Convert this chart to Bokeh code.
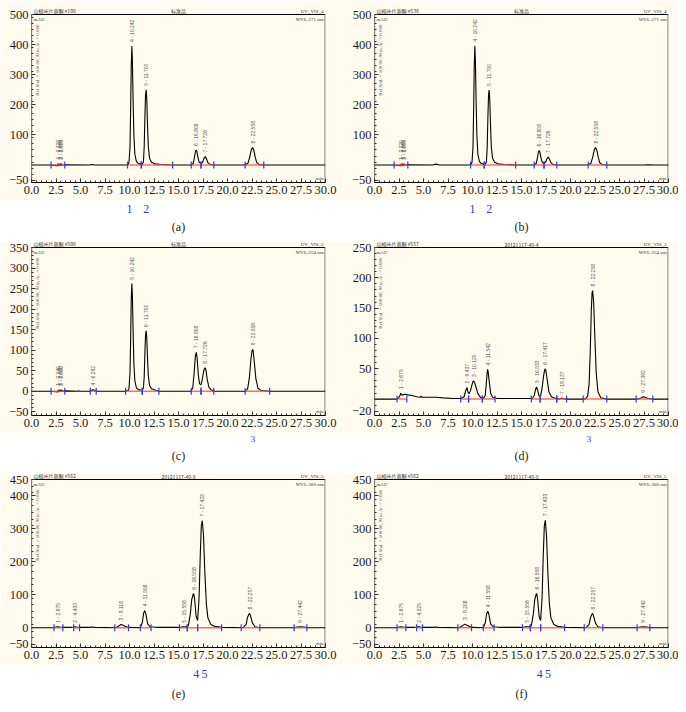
import math
from bokeh.plotting import figure
from bokeh.models import Range1d, FixedTicker, NumeralTickFormatter
from bokeh.layouts import column, row
from bokeh.embed import file_html
from bokeh.resources import INLINE
from bokeh.core.properties import value

# ---------------- data ----------------
X_TICKS = [0.0, 2.5, 5.0, 7.5, 10.0, 12.5, 15.0, 17.5, 20.0, 22.5, 25.0, 27.5, 30.0]

# Panel (a)
a_t = [0.0, 1.8, 2.5, 2.65, 2.72, 2.80, 2.86, 2.93, 3.01, 3.10, 3.4, 5.9, 6.2, 6.5, 9.6,
       9.85, 9.95, 10.05, 10.12, 10.18, 10.242, 10.30, 10.37, 10.45, 10.55, 10.70, 10.90, 11.10, 11.30,
       11.42, 11.50, 11.58, 11.64, 11.70, 11.76, 11.83, 11.92, 12.05, 12.25, 12.60, 13.2, 14.4,
       16.30, 16.50, 16.64, 16.74, 16.81, 16.88, 16.99, 17.12, 17.30,
       17.45, 17.60, 17.73, 17.85, 18.00, 18.20, 18.60,
       21.80, 22.10, 22.28, 22.44, 22.56, 22.68, 22.83, 22.98, 23.20, 23.70, 30.0]
a_y = [0, 0, -1, -3, 5, -2, 4, -3, 5, 0, 1, 0, 2, 0, 0,
       2, 9, 60, 190, 330, 395, 340, 210, 95, 35, 12, 5, 3, 3,
       10, 60, 170, 235, 250, 220, 140, 60, 22, 9, 4, 2, 0,
       0, 5, 28, 46, 50, 45, 24, 9, 5,
       9, 22, 28, 21, 8, 2, 0,
       0, 7, 28, 52, 58, 50, 26, 8, 2, 0, 0]
a_pk_t = [2.72, 2.86, 3.01, 10.242, 11.700, 16.808, 17.726, 22.558]
a_pk_h = [5, 4, 5, 395, 250, 50, 28, 58]
a_pk_lbl = ["1 - 2.720", "2 - 2.860", "3 - 3.009", "4 - 10.242", "5 - 11.700",
            "6 - 16.808", "7 - 17.726", "8 - 22.558"]
a_seg0 = [2.0, 9.8, 11.2, 16.3, 17.3, 21.8]
a_seg1 = [3.4, 11.2, 14.4, 17.3, 18.6, 23.7]
a_yticks = [-50, 100, 200, 300, 400, 500]
a_marks_t = [10.0, 11.7]
a_marks = ["1", "2"]

# Panel (b)
b_t = [0.0, 1.8, 2.5, 2.65, 2.72, 2.80, 2.86, 2.93, 3.01, 3.10, 3.4, 5.9, 6.3, 6.6, 9.6,
       9.85, 9.95, 10.05, 10.12, 10.18, 10.242, 10.30, 10.37, 10.45, 10.55, 10.70, 10.90, 11.10, 11.30,
       11.42, 11.50, 11.58, 11.64, 11.70, 11.76, 11.83, 11.92, 12.05, 12.25, 12.60, 13.2, 14.4,
       16.30, 16.50, 16.64, 16.74, 16.81, 16.88, 16.99, 17.12, 17.30,
       17.45, 17.60, 17.73, 17.85, 18.00, 18.20, 18.60,
       21.80, 22.10, 22.28, 22.44, 22.56, 22.68, 22.83, 22.98, 23.20, 23.70, 27.5, 28.0, 28.5, 30.0]
b_y = [0, 0, -1, -3, 4, -2, 5, -3, 4, 0, 1, 0, 3, 0, 0,
       2, 9, 60, 190, 330, 396, 340, 210, 95, 35, 12, 5, 3, 3,
       10, 60, 170, 235, 249, 220, 140, 60, 22, 9, 4, 2, 0,
       0, 5, 27, 45, 48, 43, 23, 9, 5,
       9, 21, 27, 20, 8, 2, 0,
       0, 7, 28, 52, 58, 50, 26, 8, 2, 0, 0, 1, 0, 0]
b_pk_t = [2.72, 2.86, 3.01, 10.242, 11.700, 16.808, 17.726, 22.558]
b_pk_h = [4, 5, 4, 396, 249, 48, 27, 58]
b_pk_lbl = ["1 - 2.720", "2 - 2.860", "3 - 3.009", "4 - 10.242", "5 - 11.700",
            "6 - 16.808", "7 - 17.726", "8 - 22.558"]
b_seg0 = [2.0, 9.8, 11.2, 16.3, 17.3, 21.8]
b_seg1 = [3.4, 11.2, 14.4, 17.3, 18.6, 23.7]
b_yticks = [-50, 100, 200, 300, 400, 500]
b_marks_t = [10.0, 11.7]
b_marks = ["1", "2"]

# Panel (c)
c_t = [0.0, 1.8, 2.5, 2.65, 2.74, 2.82, 2.90, 2.98, 3.06, 3.2, 3.5, 4.7, 4.8, 4.9, 5.9, 6.1, 6.29, 6.45, 6.7, 9.5,
       9.85, 9.95, 10.05, 10.12, 10.18, 10.242, 10.30, 10.37, 10.45, 10.55, 10.70, 10.90, 11.10, 11.30,
       11.42, 11.50, 11.58, 11.64, 11.70, 11.76, 11.83, 11.92, 12.05, 12.25, 12.60, 13.0,
       16.25, 16.45, 16.60, 16.72, 16.81, 16.90, 17.02, 17.15, 17.30,
       17.42, 17.56, 17.68, 17.73, 17.80, 17.92, 18.10, 18.35, 18.70,
       21.80, 22.05, 22.22, 22.38, 22.50, 22.56, 22.62, 22.74, 22.90, 23.10, 23.40, 24.3, 30.0]
c_y = [0, 0, -1, -2, 3, -2, 4, -1, 3, 0, 1, 0, 1, 0, 0, 2, 4, 2, 0, 0,
       2, 7, 45, 130, 225, 262, 230, 145, 65, 25, 9, 4, 3, 3,
       8, 35, 100, 138, 147, 130, 85, 38, 14, 6, 3, 0,
       0, 8, 45, 85, 95, 82, 40, 18, 16,
       28, 48, 56, 57, 52, 30, 10, 3, 0,
       0, 6, 30, 75, 98, 102, 98, 70, 30, 8, 2, 0, 0]
c_pk_t = [2.74, 2.90, 3.06, 6.29, 10.242, 11.700, 16.808, 17.726, 22.558]
c_pk_h = [3, 4, 3, 4, 262, 147, 95, 57, 102]
c_pk_lbl = ["1 - 2.740", "2 - 2.900", "3 - 3.060", "4 - 6.292", "5 - 10.242", "6 - 11.700",
            "7 - 16.808", "8 - 17.726", "9 - 22.558"]
c_seg0 = [2.0, 6.0, 9.6, 11.3, 16.3, 17.3, 21.8]
c_seg1 = [3.4, 6.6, 11.3, 13.0, 17.3, 18.6, 24.3]
c_yticks = [-50, 0, 50, 100, 150, 200, 250, 300, 350]
c_marks_t = [22.6]
c_marks = ["3"]

# Panel (d)
d_t = [0.0, 2.2, 2.45, 2.60, 2.675, 2.75, 2.90, 3.10, 3.40, 3.80, 4.30, 4.65, 4.75, 4.85, 5.30, 5.80, 6.30, 7.00, 8.00, 8.80,
       9.15, 9.30, 9.44, 9.55, 9.65, 9.80, 9.95, 10.05, 10.12, 10.22, 10.35, 10.55, 10.80, 11.10,
       11.30, 11.42, 11.50, 11.54, 11.60, 11.70, 11.85, 12.05, 12.50,
       16.10, 16.30, 16.42, 16.53, 16.64, 16.80, 16.95, 17.10, 17.25, 17.35, 17.42, 17.50, 17.62, 17.80, 18.05, 18.50,
       18.90, 19.14, 19.40,
       21.50, 21.75, 21.90, 22.02, 22.12, 22.20, 22.26, 22.36, 22.48, 22.62, 22.80, 23.10, 23.70,
       26.90, 27.20, 27.39, 27.60, 27.90, 28.40, 30.0]
d_y = [0, 0, 2, 6, 10, 7, 7, 8, 7, 6, 4, 3, 5, 3, 3, 3, 3, 2, 1, 1,
       4, 14, 19, 11, 9, 14, 24, 29, 30, 27, 20, 9, 3, 1,
       6, 28, 44, 49, 45, 30, 10, 3, 1,
       1, 6, 15, 20, 15, 5, 5, 18, 38, 47, 50, 46, 32, 12, 4, 1,
       0, 2, 0,
       0, 5, 25, 80, 145, 175, 179, 160, 105, 45, 12, 2, 0,
       0, 2, 4, 3, 1, 0, 0]
d_pk_t = [2.675, 9.437, 10.120, 11.542, 16.533, 17.417, 19.137, 22.258, 27.392]
d_pk_h = [10, 19, 30, 49, 20, 50, 2, 179, 4]
d_pk_lbl = ["1 - 2.675", "2 - 9.437", "3 - 10.120", "4 - 11.542", "5 - 16.533",
            "6 - 17.417", "7 - 19.137", "8 - 22.258", "9 - 27.392"]
d_seg0 = [2.3, 8.8, 9.6, 11.0, 16.0, 16.9, 18.6, 21.3, 26.7]
d_seg1 = [3.3, 9.6, 11.0, 12.3, 16.9, 18.6, 19.6, 23.7, 28.4]
d_yticks = [-20, 50, 100, 150, 200, 250]
d_marks_t = [21.9]
d_marks = ["3"]

# Panel (e)
e_t = [0.0, 2.3, 2.50, 2.675, 2.90, 3.30, 4.00, 4.25, 4.43, 4.60, 4.90, 6.00, 6.20, 6.50, 8.60, 8.90, 9.12, 9.30, 9.60, 9.90,
       11.10, 11.30, 11.45, 11.56, 11.67, 11.85, 12.10, 12.50, 13.00,
       15.20, 15.40, 15.56, 15.75, 16.00, 16.20, 16.35, 16.50, 16.56, 16.65, 16.80, 16.95,
       17.10, 17.22, 17.33, 17.43, 17.55, 17.70, 17.85, 18.00, 18.30, 18.70, 19.40,
       21.60, 21.90, 22.05, 22.20, 22.26, 22.35, 22.55, 22.80, 23.30,
       26.80, 27.10, 27.44, 27.80, 28.20, 30.0]
e_y = [0, 0, 2, 3, 2, 1, 1, 2, 3, 2, 1, 1, 2, 1, 0, 5, 10, 8, 4, 1,
       0, 15, 45, 52, 42, 12, 3, 2, 1,
       1, 3, 3, 2, 6, 40, 85, 102, 103, 85, 35, 22,
       90, 220, 310, 325, 280, 160, 70, 30, 10, 4, 1,
       0, 10, 32, 42, 43, 36, 14, 3, 0,
       0, 2, 3, 2, 0, 0]
e_pk_t = [2.675, 4.433, 9.118, 11.558, 15.558, 16.558, 17.433, 22.257, 27.442]
e_pk_h = [3, 3, 10, 52, 3, 103, 325, 43, 3]
e_pk_lbl = ["1 - 2.675", "2 - 4.433", "3 - 9.118", "4 - 11.558", "5 - 15.558",
            "6 - 16.558", "7 - 17.433", "8 - 22.257", "9 - 27.442"]
e_seg0 = [2.3, 4.3, 8.5, 11.1, 15.1, 15.9, 16.95, 21.4, 26.8]
e_seg1 = [3.2, 4.9, 9.9, 12.2, 15.9, 16.95, 19.4, 23.3, 28.1]
e_yticks = [-50, 0, 100, 200, 300, 400, 450]
e_marks_t = [16.8, 17.65]
e_marks = ["4", "5"]

# Panel (f)
f_t = [0.0, 2.3, 2.50, 2.675, 2.90, 3.30, 4.00, 4.30, 4.52, 4.70, 4.95, 6.00, 6.20, 6.50, 8.60, 8.95, 9.21, 9.40, 9.70, 9.95,
       11.10, 11.30, 11.45, 11.56, 11.67, 11.85, 12.10, 12.50, 13.00,
       15.20, 15.40, 15.56, 15.75, 16.00, 16.20, 16.35, 16.50, 16.56, 16.65, 16.80, 16.95,
       17.10, 17.22, 17.33, 17.43, 17.55, 17.70, 17.85, 18.00, 18.30, 18.70, 19.40,
       21.60, 21.90, 22.05, 22.20, 22.26, 22.35, 22.55, 22.80, 23.30,
       26.80, 27.10, 27.44, 27.80, 28.20, 30.0]
f_y = [0, 0, 2, 3, 2, 1, 1, 2, 3, 2, 1, 1, 2, 1, 0, 5, 11, 8, 4, 1,
       0, 15, 44, 50, 41, 12, 3, 2, 1,
       1, 3, 3, 2, 6, 40, 85, 102, 104, 85, 35, 22,
       90, 220, 310, 326, 280, 160, 70, 30, 10, 4, 1,
       0, 10, 32, 42, 43, 36, 14, 3, 0,
       0, 2, 3, 2, 0, 0]
f_pk_t = [2.675, 4.525, 9.208, 11.558, 15.558, 16.558, 17.433, 22.257, 27.442]
f_pk_h = [3, 3, 11, 50, 3, 104, 326, 43, 3]
f_pk_lbl = ["1 - 2.675", "2 - 4.525", "3 - 9.208", "4 - 11.558", "5 - 15.558",
            "6 - 16.558", "7 - 17.433", "8 - 22.257", "9 - 27.442"]
f_seg0 = [2.3, 4.3, 8.5, 11.1, 15.1, 15.9, 16.95, 21.4, 26.8]
f_seg1 = [3.2, 4.9, 9.9, 12.2, 15.9, 16.95, 19.4, 23.3, 28.1]
f_yticks = [-50, 0, 100, 200, 300, 400, 450]
f_marks_t = [16.85, 17.7]
f_marks = ["4", "5"]

# header texts
hdr = {
    "a": ("山楂叶片黄酮 #108", "标准品", "UV_VIS_4", "WVL:271 nm"),
    "b": ("山楂叶片黄酮 #538", "标准品", "UV_VIS_4", "WVL:271 nm"),
    "c": ("山楂叶片黄酮 #508", "标准品", "UV_VIS_3", "WVL:254 nm"),
    "d": ("山楂叶片黄酮 #557", "20121117-40-4", "UV_VIS_3", "WVL:254 nm"),
    "e": ("山楂叶片黄酮 #562", "20121117-40-9", "UV_VIS_5", "WVL:360 nm"),
    "f": ("山楂叶片黄酮 #562", "20121117-40-9", "UV_VIS_5", "WVL:360 nm"),
}

# ---------------- styling ----------------
CREAM = "#FFFBEF"
SERIF = "Liberation Serif"
FW = 294
FH = 168     # height of the data box (bottom of range to the top tick)
PAD = 6      # strip above the data box for the header texts
X_MINOR = [i * 0.5 for i in range(61)]


def chart(t, y, yr, yticks, ystep, pk_t, pk_h, pk_lbl, s0, s1, key, bl, br, bt):
    left, mid, right, wvl = hdr[key]
    ybot, ytop = yr
    yend = ytop + (ytop - ybot) * PAD / FH
    p = figure(frame_width=FW, frame_height=FH + PAD, x_range=Range1d(0, 30),
               y_range=Range1d(ybot, yend),
               output_backend="svg", toolbar_location=None,
               min_border_left=bl, min_border_right=br, min_border_top=bt, min_border_bottom=18,
               background_fill_color=CREAM, border_fill_color=CREAM,
               outline_line_color=None)
    p.grid.visible = False
    p.xaxis.ticker = FixedTicker(ticks=X_TICKS, minor_ticks=X_MINOR)
    p.xaxis.formatter = NumeralTickFormatter(format="0.0")
    yminor = list(range(yticks[0], yticks[-1] + 1, ystep))
    p.yaxis.ticker = FixedTicker(ticks=yticks, minor_ticks=yminor)
    p.yaxis.major_label_overrides = {v: str(v).replace("-", "\u2212") for v in yticks}
    for ax in p.axis:
        ax.major_label_text_font = SERIF
        ax.major_label_text_font_size = "12.5px"
        ax.major_label_text_color = "#1a1a1a"
        ax.axis_line_color = "black"
        ax.major_tick_in = 4
        ax.major_tick_out = 0
        ax.minor_tick_in = 2
        ax.minor_tick_out = 0
        ax.major_tick_line_color = "#333"
        ax.minor_tick_line_color = "#333"
        ax.major_label_standoff = 3
    p.yaxis.axis_line_color = None

    # box lines: left, top (black) and right (grey)
    p.segment(x0=[0, 0], y0=[ybot, ytop], x1=[0, 30], y1=[ytop, ytop],
              line_color="black", line_width=1.2)
    p.segment(x0=[30], y0=[ybot], x1=[30], y1=[ytop], line_color="#9a9a9a", line_width=2.5)
    # trace
    p.line(t, y, line_color="black", line_width=1.1)
    # integration baselines
    p.segment(x0=s0, y0=[0] * len(s0), x1=s1, y1=[0] * len(s1),
              line_color="#FF4A4A", line_width=1.5, line_alpha=0.8)
    p.scatter(x=s0 + s1, y=[0] * (len(s0) + len(s1)), marker="dash", angle=math.pi / 2,
              size=7, line_color="#2E3FD6", line_width=1.2)
    # peak labels
    p.text(x=pk_t, y=pk_h, text=pk_lbl, angle=math.pi / 2, text_align="left",
           text_baseline="middle", y_offset=-4, text_font_size="5px",
           text_color="#555555", text_font=value("Liberation Sans"))
    # header texts (above the top line)
    p.text(x=[0.2], y=[ytop], text=[left], text_align="left",
           text_baseline="bottom", y_offset=-1, text_font_size="5px", text_color="#333333",
           text_font=value("Noto Sans CJK SC"))
    p.text(x=[15], y=[ytop], text=[mid], text_align="center",
           text_baseline="bottom", y_offset=-1, text_font_size="5px", text_color="#333333",
           text_font=value("Noto Sans CJK SC"))
    p.text(x=[29.8], y=[ytop], text=[right], text_align="right",
           text_baseline="bottom", y_offset=-1, text_font_size="5px", text_color="#333333",
           text_font=value(SERIF))
    # texts inside the box
    p.text(x=[29.8], y=[ytop], text=[wvl], text_align="right", text_baseline="top",
           y_offset=2, text_font_size="5px", text_color="#333333", text_font=value(SERIF))
    p.text(x=[0.2], y=[ytop], text=["mAU"], text_align="left", text_baseline="top",
           y_offset=2, text_font_size="5px", text_color="#333333", text_font=value(SERIF))
    p.text(x=[29.8], y=[ybot], text=["min"], text_align="right", text_baseline="bottom",
           y_offset=-2, text_font_size="5px", text_color="#333333", text_font=value(SERIF))
    p.text(x=[0.4], y=[ytop], text=["Rel.Shd. = 100.00, Min.Ar. = 0.000"], angle=math.pi / 2,
           text_align="right", text_baseline="top", y_offset=10, text_font_size="5px",
           text_color="#555555", text_font=value(SERIF))
    return p


def caption(marks_t, marks, msize, moff, cap, coff, h, bl, br):
    q = figure(frame_width=FW, frame_height=h, x_range=Range1d(0, 30), y_range=Range1d(h, 0),
               x_axis_location=None, y_axis_location=None,
               min_border_left=bl, min_border_right=br, min_border_top=0, min_border_bottom=0,
               outline_line_color=None, output_backend="svg", toolbar_location=None,
               background_fill_color="white", border_fill_color="white")
    q.grid.visible = False
    q.text(x=marks_t, y=[moff] * len(marks_t), text=marks, text_align="center",
           text_baseline="middle", text_color="#3838C8", text_font=value(SERIF),
           text_font_size=msize)
    q.text(x=[15], y=[coff], text=[cap], text_align="center", text_baseline="middle",
           text_color="#222222", text_font=value(SERIF), text_font_size="12px")
    return q


LBL, LBR = 31, 18
RBL, RBR = 31, 10

fa = chart(a_t, a_y, (-58, 500), a_yticks, 20, a_pk_t, a_pk_h, a_pk_lbl, a_seg0, a_seg1, "a", LBL, LBR, 8)
fb = chart(b_t, b_y, (-58, 500), b_yticks, 20, b_pk_t, b_pk_h, b_pk_lbl, b_seg0, b_seg1, "b", RBL, RBR, 8)
fc = chart(c_t, c_y, (-59, 350), c_yticks, 10, c_pk_t, c_pk_h, c_pk_lbl, c_seg0, c_seg1, "c", LBL, LBR, 0)
fd = chart(d_t, d_y, (-27, 250), d_yticks, 10, d_pk_t, d_pk_h, d_pk_lbl, d_seg0, d_seg1, "d", RBL, RBR, 0)
fe = chart(e_t, e_y, (-60, 450), e_yticks, 20, e_pk_t, e_pk_h, e_pk_lbl, e_seg0, e_seg1, "e", LBL, LBR, 0)
ff = chart(f_t, f_y, (-60, 450), f_yticks, 20, f_pk_t, f_pk_h, f_pk_lbl, f_seg0, f_seg1, "f", RBL, RBR, 0)

la = caption(a_marks_t, a_marks, "12px", 8, "(a)", 26, 41, LBL, LBR)
lb = caption(b_marks_t, b_marks, "12px", 8, "(b)", 26, 41, RBL, RBR)
lc = caption(c_marks_t, c_marks, "9px", 5, "(c)", 22, 40, LBL, LBR)
ld = caption(d_marks_t, d_marks, "9px", 5, "(d)", 22, 40, RBL, RBR)
le = caption(e_marks_t, e_marks, "12px", 8, "(e)", 28, 39, LBL, LBR)
lf = caption(f_marks_t, f_marks, "12px", 8, "(f)", 28, 39, RBL, RBR)

layout = column(row(fa, fb), row(la, lb), row(fc, fd), row(lc, ld), row(fe, ff), row(le, lf))

open("out.html", "w").write(file_html(layout, INLINE))
